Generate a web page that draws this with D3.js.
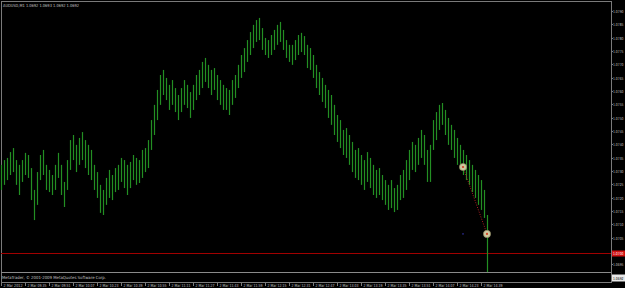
<!DOCTYPE html>
<html><head><meta charset="utf-8">
<script src="https://cdn.jsdelivr.net/npm/d3@7"></script>
<style>html,body{margin:0;padding:0;background:#000;overflow:hidden}svg{display:block}text{font-family:"DejaVu Sans",sans-serif}
.pl{font-family:"Liberation Sans Narrow","DejaVu Sans Condensed",sans-serif}</style>
</head><body>
<svg id="c" width="625" height="288"></svg>
<script>
// ---- data ----
const symbolTitle = "AUDUSD,M1  1.0692 1.0693 1.0692 1.0692";
const copyright = "MetaTrader, \u00A9 2001-2009 MetaQuotes Software Corp.";
const startTime = "2012-03-02T09:19";
const barMinutes = 2;
const highs = [1.07323,1.07341,1.07349,1.07371,1.07386,1.07341,1.07323,1.07341,1.07368,1.07360,
1.07311,1.07229,1.07296,1.07360,1.07379,1.07323,1.07304,1.07285,1.07323,1.07368,
1.07323,1.07259,1.07341,1.07416,1.07435,1.07398,1.07424,1.07446,1.07416,1.07398,
1.07379,1.07323,1.07296,1.07248,1.07229,1.07274,1.07304,1.07285,1.07311,1.07323,
1.07349,1.07341,1.07323,1.07334,1.07360,1.07349,1.07341,1.07379,1.07386,1.07416,
1.07491,1.07548,1.07604,1.07660,1.07679,1.07649,1.07623,1.07641,1.07611,1.07585,
1.07611,1.07641,1.07623,1.07596,1.07623,1.07660,1.07679,1.07709,1.07724,1.07698,
1.07679,1.07686,1.07660,1.07641,1.07623,1.07611,1.07604,1.07641,1.07660,1.07698,
1.07735,1.07761,1.07791,1.07821,1.07848,1.07866,1.07874,1.07836,1.07799,1.07791,
1.07810,1.07829,1.07848,1.07859,1.07829,1.07791,1.07773,1.07773,1.07791,1.07810,
1.07818,1.07806,1.07773,1.07761,1.07735,1.07698,1.07671,1.07649,1.07623,1.07604,
1.07585,1.07548,1.07510,1.07491,1.07454,1.07461,1.07435,1.07409,1.07379,1.07386,
1.07360,1.07341,1.07371,1.07349,1.07323,1.07304,1.07311,1.07285,1.07266,1.07248,
1.07266,1.07236,1.07248,1.07285,1.07304,1.07341,1.07379,1.07409,1.07398,1.07424,
1.07454,1.07435,1.07379,1.07398,1.07491,1.07521,1.07548,1.07555,1.07529,1.07499,
1.07473,1.07454,1.07424,1.07398,1.07379,1.07360,1.07341,1.07323,1.07304,1.07285,
1.07266,1.07229,1.07135];
const lows = [1.07229,1.07248,1.07266,1.07285,1.07296,1.07248,1.07210,1.07259,1.07285,1.07274,
1.07191,1.07116,1.07173,1.07266,1.07285,1.07229,1.07221,1.07210,1.07229,1.07274,
1.07210,1.07165,1.07229,1.07304,1.07341,1.07296,1.07323,1.07341,1.07311,1.07285,
1.07266,1.07229,1.07199,1.07143,1.07135,1.07173,1.07199,1.07191,1.07221,1.07229,
1.07259,1.07236,1.07210,1.07236,1.07266,1.07248,1.07255,1.07274,1.07296,1.07311,
1.07379,1.07435,1.07491,1.07548,1.07585,1.07566,1.07529,1.07548,1.07521,1.07491,
1.07521,1.07548,1.07536,1.07499,1.07529,1.07566,1.07585,1.07611,1.07634,1.07611,
1.07585,1.07604,1.07566,1.07548,1.07529,1.07529,1.07510,1.07548,1.07574,1.07611,
1.07649,1.07671,1.07709,1.07735,1.07761,1.07784,1.07791,1.07754,1.07735,1.07724,
1.07735,1.07754,1.07773,1.07784,1.07754,1.07724,1.07709,1.07698,1.07716,1.07735,
1.07746,1.07735,1.07686,1.07679,1.07649,1.07611,1.07585,1.07559,1.07536,1.07499,
1.07473,1.07435,1.07409,1.07386,1.07360,1.07349,1.07323,1.07296,1.07274,1.07266,
1.07248,1.07229,1.07259,1.07236,1.07210,1.07199,1.07210,1.07191,1.07173,1.07154,
1.07161,1.07146,1.07154,1.07191,1.07199,1.07229,1.07266,1.07304,1.07296,1.07323,
1.07349,1.07323,1.07259,1.07259,1.07379,1.07416,1.07454,1.07473,1.07435,1.07398,
1.07379,1.07349,1.07323,1.07304,1.07285,1.07266,1.07248,1.07221,1.07199,1.07173,
1.07154,1.07124,1.06921];
const priceTicks = [1.0790,1.0785,1.0780,1.0775,1.0770,1.0765,1.0760,1.0755,1.0750,1.0745,
1.0740,1.0735,1.0730,1.0725,1.0720,1.0715,1.0710,1.0705,1.0700,1.0695];
const timeTickLabels = ["2 Mar 2012","2 Mar 09:35","2 Mar 09:51","2 Mar 10:07","2 Mar 10:23","2 Mar 10:39",
"2 Mar 10:55","2 Mar 11:11","2 Mar 11:27","2 Mar 11:43","2 Mar 11:59","2 Mar 12:15","2 Mar 12:31",
"2 Mar 12:47","2 Mar 13:03","2 Mar 13:19","2 Mar 13:35","2 Mar 13:51","2 Mar 14:07","2 Mar 14:23","2 Mar 14:39"];
const timeTickMinutes = 16;
const levelLine = 1.0700;
const bidPrice = 1.06921;
const tradeOpen = {time:"2012-03-02T14:27", price:1.07315};
const tradeClose = {time:"2012-03-02T14:43", price:1.07064};
const markerBlue = {time:"2012-03-02T14:27", price:1.07064};

// ---- scales ----
const W=625,H=288, plotL=1, plotR=611, plotT=1, plotB=282;
const parse = d3.isoParse;
const t0 = parse(startTime);
const x = d3.scaleTime().domain([t0, d3.timeMinute.offset(t0,16)]).range([1,25]);
const y = d3.scaleLinear().domain([1.0790,1.0700]).range([11,251]);
const bars = highs.map((h,i)=>({t:d3.timeMinute.offset(t0,i*barMinutes),h:h,l:lows[i]}));

const svg = d3.select("#c");
svg.append("rect").attr("width",W).attr("height",H).attr("fill","#000");

const frame="#7a7a7a", txt="#c0c0c0";
svg.append("rect").attr("x",plotL+0.5).attr("y",plotT+0.5).attr("width",plotR-plotL).attr("height",plotB-plotT)
  .attr("fill","none").attr("stroke",frame).attr("stroke-width",1);

// title
svg.append("text").attr("x",3).attr("y",7).attr("font-size",4.2).attr("fill",txt)
  .attr("textLength",76).attr("lengthAdjust","spacingAndGlyphs").text(symbolTitle);

// red level line
const ly = Math.round(y(levelLine))+2.5;
svg.append("line").attr("x1",plotL).attr("x2",plotR).attr("y1",ly).attr("y2",ly)
  .attr("stroke","#a00000").attr("stroke-width",1);

// bid line
const by = Math.round(y(bidPrice))+0.5;
svg.append("line").attr("x1",plotL).attr("x2",plotR).attr("y1",by).attr("y2",by)
  .attr("stroke","#8a8a8a").attr("stroke-width",1);

// bars
const g = svg.append("g");
g.selectAll("line.bar").data(bars).enter().append("line").attr("class","bar")
  .attr("x1",d=>Math.round(x(d.t))+0.5).attr("x2",d=>Math.round(x(d.t))+0.5)
  .attr("y1",d=>y(d.h)).attr("y2",d=>y(d.l))
  .attr("stroke","#238f23").attr("stroke-width",1.2);

// trade markers
const ox=x(parse(tradeOpen.time)), oy=y(tradeOpen.price), cx=x(parse(tradeClose.time)), cy=y(tradeClose.price);
svg.append("line").attr("x1",ox).attr("y1",oy).attr("x2",cx).attr("y2",cy)
  .attr("stroke","#b02020").attr("stroke-width",1).attr("stroke-dasharray","1,1.5");
[[ox,oy],[cx,cy]].forEach(p=>{
  svg.append("circle").attr("cx",p[0]).attr("cy",p[1]).attr("r",3.6).attr("fill","#cfc7a0").attr("stroke","#8f8a60").attr("stroke-width",0.6);
  svg.append("circle").attr("cx",p[0]).attr("cy",p[1]).attr("r",1.1).attr("fill","#d04020");
});
svg.append("line").attr("x1",x(parse(markerBlue.time))-1).attr("x2",x(parse(markerBlue.time))+1)
  .attr("y1",y(markerBlue.price)).attr("y2",y(markerBlue.price)).attr("stroke","#3030a0").attr("stroke-width",1);

// copyright
svg.append("text").attr("x",2).attr("y",279).attr("font-size",4.2).attr("fill",txt)
  .attr("textLength",104).attr("lengthAdjust","spacingAndGlyphs").text(copyright);

// price axis
const ax = svg.append("g");
const fmt = d3.format(".4f");
priceTicks.forEach(p=>{
  const yy=Math.round(y(p))+0.5;
  ax.append("line").attr("x1",plotR).attr("x2",plotR+2).attr("y1",yy).attr("y2",yy).attr("stroke",frame);
  if (p !== levelLine)
    ax.append("text").attr("class","pl").attr("x",plotR+2).attr("y",yy+1.5).attr("font-size",3.9).attr("fill",txt)
      .attr("textLength",10.5).attr("lengthAdjust","spacingAndGlyphs").text(fmt(p));
});
// red level label
ax.append("rect").attr("x",plotR+1).attr("y",ly-3).attr("width",W-plotR-1).attr("height",6).attr("fill","#d01010");
ax.append("text").attr("class","pl").attr("x",plotR+2).attr("y",ly+1.5).attr("font-size",3.9).attr("fill","#fff")
  .attr("textLength",10.5).attr("lengthAdjust","spacingAndGlyphs").text(fmt(levelLine));
// bid label
ax.append("rect").attr("x",plotR+1).attr("y",by+2).attr("width",W-plotR-1).attr("height",7).attr("fill","#e8e8e8");
ax.append("text").attr("class","pl").attr("x",plotR+2).attr("y",by+7).attr("font-size",3.9).attr("fill","#000")
  .attr("textLength",10.5).attr("lengthAdjust","spacingAndGlyphs").text(fmt(bidPrice));

// time axis
timeTickLabels.forEach((lab,i)=>{
  const xx=Math.round(x(d3.timeMinute.offset(t0,i*timeTickMinutes)))+0.5;
  svg.append("line").attr("x1",xx).attr("x2",xx).attr("y1",plotB).attr("y2",plotB+4).attr("stroke",frame);
  svg.append("text").attr("x",xx+2).attr("y",287).attr("font-size",4.2).attr("fill",txt)
    .attr("textLength",19).attr("lengthAdjust","spacingAndGlyphs").text(lab);
});
</script>
</body></html>
